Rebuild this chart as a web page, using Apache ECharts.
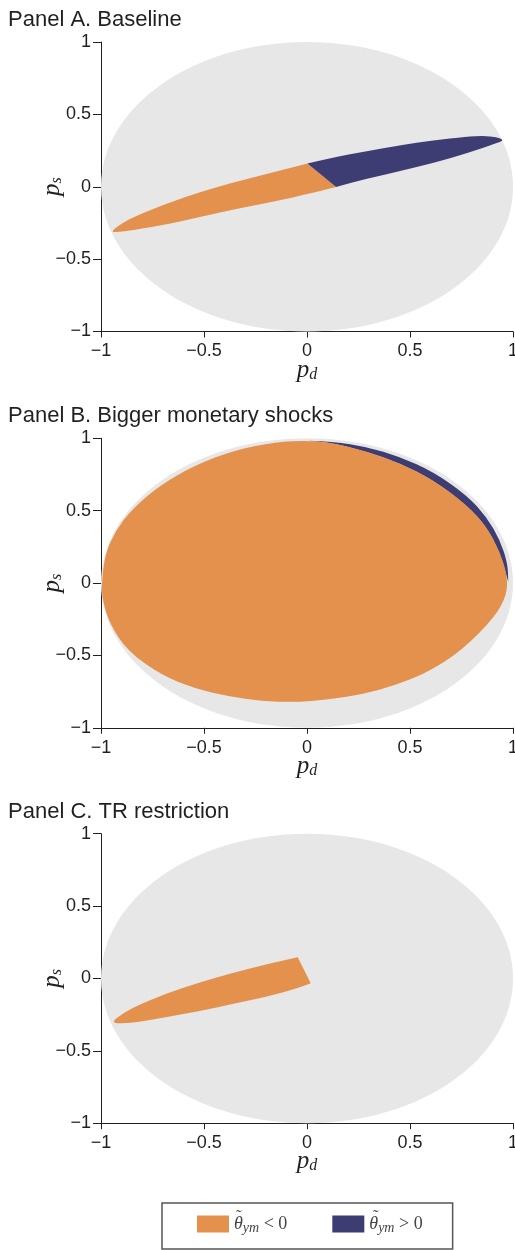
<!DOCTYPE html>
<html>
<head>
<meta charset="utf-8">
<script src="https://cdn.jsdelivr.net/npm/echarts@6/dist/echarts.min.js"></script>
<style>
  html, body { margin: 0; padding: 0; background: #fff; }
  #chart { width: 515px; height: 1250px; }
</style>
</head>
<body>
<div id="chart"></div>
<script>
// axis range shared by all three panels
const axisMin = -1
const axisMax = 1
const tickStep = 0.5

const panelTitles = ['Panel A. Baseline', 'Panel B. Bigger monetary shocks', 'Panel C. TR restriction']

// admissible region: unit disc [centre x, centre y, radius x, radius y]
const disc = [0, 0, 1, 1]

// Panel A, [p_d, p_s]; outline runs from the cut, round the tip, back to the cut
const aNegOutline = [[0.141, -0.001], [-0.034, -0.063], [-0.196, -0.112], [-0.358, -0.158], [-0.519, -0.209],
  [-0.681, -0.260], [-0.843, -0.301], [-0.925, -0.315], [-0.950, -0.310], [-0.915, -0.266], [-0.843, -0.209],
  [-0.681, -0.116], [-0.519, -0.036], [-0.358, 0.029], [-0.196, 0.087], [0.002, 0.160]]
const aPosOutline = [[0.002, 0.160], [0.128, 0.202], [0.290, 0.246], [0.451, 0.287], [0.613, 0.322],
  [0.775, 0.345], [0.856, 0.352], [0.921, 0.344], [0.955, 0.322], [0.930, 0.305], [0.775, 0.230],
  [0.613, 0.165], [0.451, 0.107], [0.290, 0.057], [0.141, -0.001]]

// Panel B: negative region is a closed oval, positive one a crescent on its upper right
const bNegOutline = [[-0.997, 0.0], [-0.98, 0.20], [-0.93, 0.36], [-0.85, 0.51], [-0.72, 0.67], [-0.55, 0.81],
  [-0.35, 0.92], [-0.15, 0.975], [0.006, 0.985], [0.128, 0.967], [0.290, 0.910], [0.451, 0.829],
  [0.613, 0.713], [0.775, 0.540], [0.872, 0.390], [0.937, 0.215], [0.972, 0.050], [0.970, -0.080],
  [0.913, -0.234], [0.751, -0.465], [0.589, -0.615], [0.427, -0.707], [0.265, -0.770], [0.103, -0.806],
  [-0.058, -0.823], [-0.220, -0.816], [-0.382, -0.783], [-0.544, -0.730], [-0.705, -0.638],
  [-0.867, -0.475], [-0.955, -0.29], [-0.993, -0.12]]
const bPosOuter = [[0.006, 0.983], [0.128, 0.977], [0.290, 0.942], [0.451, 0.873], [0.613, 0.769],
  [0.775, 0.608], [0.872, 0.457], [0.937, 0.296], [0.974, 0.135], [0.977, 0.008]]
const bPosInner = [[0.977, 0.008], [0.969, 0.05], [0.937, 0.204], [0.872, 0.388], [0.775, 0.538],
  [0.613, 0.711], [0.451, 0.827], [0.290, 0.907], [0.128, 0.965], [0.006, 0.983]]

// Panel C
const cNegOutline = [[0.018, -0.033], [-0.034, -0.063], [-0.196, -0.126], [-0.358, -0.176], [-0.519, -0.224],
  [-0.681, -0.268], [-0.843, -0.305], [-0.920, -0.312], [-0.945, -0.300], [-0.910, -0.258], [-0.843, -0.199],
  [-0.681, -0.102], [-0.519, -0.026], [-0.358, 0.040], [-0.196, 0.098], [-0.045, 0.146]]

const gray = '#e6e7e6'
const orange = '#e4914d'
const navy = '#3d3c73'
const ink = '#231f20'
const legendInk = '#444'

const gridTops = [42, 438.3, 833.7]

let chart = echarts.init(document.getElementById('chart'))

function fmt(v) {
    return v === 0 ? '0' : String(v).replace('-', '\u2212')
}

const nameRich = {
    p: {fontFamily: 'Liberation Serif', fontStyle: 'italic', fontSize: 25, color: ink},
    s: {fontFamily: 'Liberation Serif', fontStyle: 'italic', fontSize: 16, color: ink, padding: [9, 0, 0, 0]}
}

function axis(idx, name, isX) {
    return {
        type: 'value', gridIndex: idx, min: axisMin, max: axisMax, interval: tickStep,
        name: name, nameLocation: 'middle', nameGap: isX ? 26 : 36, nameRotate: isX ? 0 : 90,
        nameMoveOverlap: false,
        nameTextStyle: {rich: nameRich},
        axisLine: {show: true, onZero: false, lineStyle: {color: ink, width: 1}},
        axisTick: {show: true, inside: false, length: isX ? 6 : 8, lineStyle: {color: ink}},
        splitLine: {show: false},
        axisLabel: {
            formatter: fmt, fontSize: 18, color: ink, fontFamily: 'Liberation Sans',
            margin: isX ? 11 : 10, showMinLabel: true, showMaxLabel: true
        }
    }
}

function discSeries(idx) {
    return {
        type: 'custom', xAxisIndex: idx, yAxisIndex: idx, silent: true, data: [disc],
        renderItem: (params, api) => {
            const c = api.coord([api.value(0), api.value(1)])
            const s = api.size([api.value(2), api.value(3)])
            return {type: 'ellipse', shape: {cx: c[0], cy: c[1], rx: s[0], ry: s[1]}, style: {fill: gray}}
        }
    }
}

// smooth curve through the midpoints of an outline (control points at the read points)
function curvePath(pts, closed) {
    const mid = (a, b) => [(a[0] + b[0]) / 2, (a[1] + b[1]) / 2]
    const f = p => p[0].toFixed(2) + ' ' + p[1].toFixed(2)
    let d
    if (closed) {
        const n = pts.length
        d = 'M' + f(mid(pts[n - 1], pts[0]))
        for (let i = 0; i < n; i++) d += ' Q' + f(pts[i]) + ' ' + f(mid(pts[i], pts[(i + 1) % n]))
        return d + ' Z'
    }
    d = 'M' + f(pts[0])
    for (let i = 1; i < pts.length - 1; i++) d += ' Q' + f(pts[i]) + ' ' + f(mid(pts[i], pts[i + 1]))
    return d + ' L' + f(pts[pts.length - 1])
}

// parts: list of outlines joined in order; closing edge is straight unless closed=true
function regionSeries(idx, name, parts, color, closed) {
    return {
        type: 'custom', name: name, xAxisIndex: idx, yAxisIndex: idx, silent: true,
        itemStyle: {color: color}, data: [[0, 0]],
        renderItem: (params, api) => {
            let d = ''
            parts.forEach((pts, k) => {
                const px = pts.map(p => api.coord(p))
                let seg = curvePath(px, closed)
                if (k > 0) seg = seg.replace(/^M/, 'L')
                d += seg + ' '
            })
            if (!closed) d += 'Z'
            return {type: 'path', shape: {pathData: d}, style: {fill: color}}
        }
    }
}

const xName = '{p|p}{s|d}'
const yName = '{p|p}{s|s}'

// tilde accents over the legend thetas
const tildeX = [240, 377]

let option = {
    animation: false,
    backgroundColor: '#fff',
    title: panelTitles.map((t, i) => ({
        text: t, left: 3, top: gridTops[i] - 38,
        textStyle: {fontSize: 22, fontWeight: 'normal', color: ink, fontFamily: 'Liberation Sans'}
    })),
    grid: gridTops.map(t => ({
        left: 101, right: 2, top: t, height: 289.5, containLabel: false, outerBoundsMode: 'none'
    })),
    xAxis: [0, 1, 2].map(i => axis(i, xName, true)),
    yAxis: [0, 1, 2].map(i => axis(i, yName, false)),
    legend: {
        left: 162, top: 1203, orient: 'horizontal', selectedMode: false,
        data: ['neg', 'pos'], icon: 'rect', itemWidth: 32, itemHeight: 17, itemGap: 45,
        padding: [12, 30, 14, 35],
        borderColor: '#555', borderWidth: 1.5,
        formatter: n => '{t|\u03b8}{s|ym}{o| ' + (n === 'neg' ? '<' : '>') + ' 0}',
        textStyle: {
            color: legendInk,
            rich: {
                t: {fontFamily: 'Liberation Serif', fontStyle: 'italic', fontSize: 18, lineHeight: 22, color: legendInk},
                s: {fontFamily: 'Liberation Serif', fontStyle: 'italic', fontSize: 14, lineHeight: 14, verticalAlign: 'bottom', color: legendInk},
                o: {fontFamily: 'Liberation Serif', fontSize: 18, lineHeight: 22, color: legendInk}
            }
        }
    },
    graphic: tildeX.map(x => ({
        type: 'text', left: x - 4, top: 1208, silent: true,
        style: {text: '\u02dc', fontFamily: 'Liberation Serif', fontSize: 17, fill: legendInk}
    })),
    series: [
        discSeries(0), regionSeries(0, 'neg', [aNegOutline], orange), regionSeries(0, 'pos', [aPosOutline], navy),
        discSeries(1), regionSeries(1, 'pos', [bPosOuter, bPosInner], navy), regionSeries(1, 'neg', [bNegOutline], orange, true),
        discSeries(2), regionSeries(2, 'neg', [cNegOutline], orange)
    ]
}

chart.setOption(option)
</script>
</body>
</html>
